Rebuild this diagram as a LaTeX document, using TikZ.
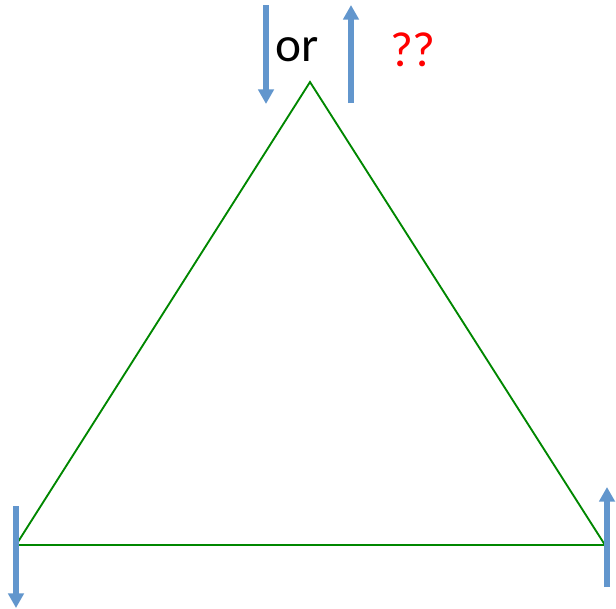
\documentclass[tikz,border=0pt]{standalone}
\usepackage{fontspec}
\setmainfont{Carlito}
\usetikzlibrary{
    arrows.meta
}
\definecolor{spinblue}{RGB}{98,150,205}
\definecolor{edgegreen}{RGB}{0,135,0}
\tikzset{
    spin/.style={
        draw=spinblue,
        line width=4.5pt,
        -{Triangle[width=11.5pt,length=11pt]}
    },
    edge/.style={
        draw=edgegreen,
        line width=1.4pt
    }
}

\begin{document}
\begin{tikzpicture}[
    x=0.75pt,
    y=-0.75pt
]
    \useasboundingbox (0,0) rectangle (616,608);

    % Vertices
    \coordinate (vt) at (310,82);
    \coordinate (vl) at (16,545);
    \coordinate (vr) at (605,545);

    % Triangle
    \draw[edge] (vt) -- (vl) -- (vr) -- cycle;

    % Spin ends
    \coordinate (tds) at (266,5);
    \coordinate (tde) at (266,104);
    \coordinate (tus) at (351,103);
    \coordinate (tue) at (351,5);
    \coordinate (lds) at (16,506);
    \coordinate (lde) at (16,608);
    \coordinate (rus) at (607,587);
    \coordinate (rue) at (607,487);

    % Spins
    \draw[spin] (tds) -- (tde);
    \draw[spin] (tus) -- (tue);
    \draw[spin] (lds) -- (lde);
    \draw[spin] (rus) -- (rue);

    % Labels
    \node[font=\fontsize{37}{40}\selectfont] (or) at (297,50) {or};
    \node[font=\fontsize{37}{40}\selectfont, text=red] (qq) at (413,50) {??};

\end{tikzpicture}
\end{document}
